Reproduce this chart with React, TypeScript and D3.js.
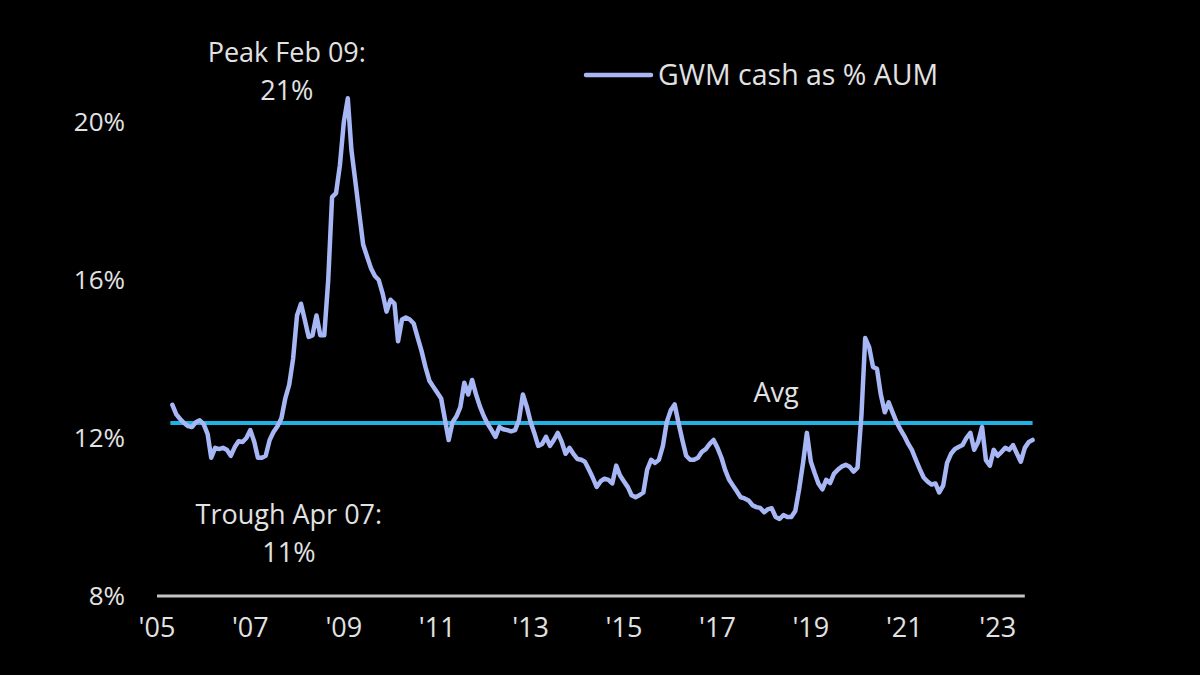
import React from "react";
import * as d3 from "d3";

const startMonth = "2005-05";
// Monthly GWM cash as % of AUM, May 2005 – Oct 2023
const cashValues: number[] = [
  // 2005 (May-Dec)
  12.84, 12.6, 12.48, 12.38, 12.3, 12.28, 12.4, 12.45,
  // 2006
  12.35, 12.1, 11.5, 11.75, 11.72, 11.75, 11.7, 11.55, 11.77, 11.92, 11.9, 12.0,
  // 2007
  12.2, 11.9, 11.5, 11.5, 11.55, 11.95, 12.15, 12.3, 12.5, 13.0, 13.35, 14.0,
  // 2008
  15.1, 15.4, 15.0, 14.56, 14.6, 15.1, 14.6, 14.6, 16.0, 18.1, 18.2, 18.9,
  // 2009
  20.0, 20.6, 19.3, 18.5, 17.7, 16.9, 16.6, 16.3, 16.1, 16.0, 15.65, 15.2,
  // 2010
  15.5, 15.4, 14.45, 15.0, 15.05, 15.0, 14.9, 14.55, 14.2, 13.8, 13.45, 13.3,
  // 2011
  13.15, 13.0, 12.5, 11.95, 12.4, 12.55, 12.78, 13.4, 13.1, 13.47, 13.1, 12.8,
  // 2012
  12.55, 12.35, 12.2, 12.03, 12.28, 12.22, 12.2, 12.17, 12.2, 12.45, 13.1, 12.8,
  // 2013
  12.4, 12.1, 11.8, 11.85, 12.03, 11.8, 11.95, 12.13, 11.9, 11.6, 11.75, 11.6,
  // 2014
  11.47, 11.45, 11.4, 11.2, 11.0, 10.76, 10.9, 10.97, 10.94, 10.85, 11.3, 11.05,
  // 2015
  10.9, 10.75, 10.55, 10.5, 10.55, 10.62, 11.2, 11.45, 11.37, 11.45, 11.8, 12.4,
  // 2016
  12.7, 12.85, 12.4, 11.95, 11.55, 11.45, 11.45, 11.5, 11.65, 11.72, 11.85, 11.95,
  // 2017
  11.75, 11.5, 11.2, 10.95, 10.8, 10.65, 10.5, 10.47, 10.42, 10.3, 10.25, 10.23,
  // 2018
  10.12, 10.2, 10.22, 10.0, 9.95, 10.05, 10.0, 10.0, 10.15, 10.7, 11.37, 12.13,
  // 2019
  11.4, 11.1, 10.85, 10.7, 10.94, 10.86, 11.1, 11.2, 11.28, 11.32, 11.27, 11.15,
  // 2020
  11.25, 12.6, 14.53, 14.3, 13.8, 13.75, 13.1, 12.65, 12.9, 12.65, 12.4, 12.22,
  // 2021
  12.05, 11.85, 11.7, 11.45, 11.22, 11.0, 10.9, 10.82, 10.85, 10.62, 10.8, 11.37,
  // 2022
  11.6, 11.72, 11.77, 11.82, 12.0, 12.13, 11.7, 11.9, 12.28, 11.44, 11.3, 11.7,
  // 2023 (Jan-Oct)
  11.55, 11.65, 11.75, 11.7, 11.82, 11.6, 11.4, 11.75, 11.9, 11.95,
];

const averageValue = 12.38;
const yTicks: number[] = [8, 12, 16, 20];
const xTickYears: number[] = [2005, 2007, 2009, 2011, 2013, 2015, 2017, 2019, 2021, 2023];
const seriesName = "GWM cash as % AUM";
const peakLabel = ["Peak Feb 09:", "21%"];
const troughLabel = ["Trough Apr 07:", "11%"];
const avgLabel = "Avg";

const W = 1200;
const H = 675;
const FONT = "'Open Sans', Lato, sans-serif";
const TEXT = "#e2e2e2";
const LINE = "#a7b6f5";
const AVG = "#1fb3e3";

export default function App() {
  const parse = d3.timeParse("%Y-%m");
  const start = parse(startMonth) as Date;
  const data = cashValues.map((v, i) => ({ date: d3.timeMonth.offset(start, i), value: v }));

  const x = d3
    .scaleTime()
    .domain([new Date(2005, 0, 1), new Date(2023, 9, 1)])
    .range([157, 1032.6]);
  const y = d3.scaleLinear().domain([8, 20]).range([596, 122]);

  const line = d3
    .line<{ date: Date; value: number }>()
    .x((d) => x(d.date))
    .y((d) => y(d.value))
    .curve(d3.curveLinear);

  const first = data[0].date;
  const last = data[data.length - 1].date;
  const peak = data.reduce((a, b) => (b.value > a.value ? b : a));
  const trough = data.find((d) => d.date.getFullYear() === 2007 && d.date.getMonth() === 3)!;

  const fw = 500;

  return (
    <div style={{ position: "absolute", left: 0, top: 0, width: W, height: H, background: "#000" }}>
      <svg width={W} height={H} style={{ display: "block", background: "#000" }} fontFamily={FONT}>
        <rect width={W} height={H} fill="#000" />
        {/* y tick labels */}
        {yTicks.map((t) => (
          <text key={t} x={125} y={y(t)} dy="0.36em" textAnchor="end" fill={TEXT} fontSize={26} fontWeight={fw}>
            {t}%
          </text>
        ))}
        {/* x axis line */}
        <line
          x1={x(new Date(2005, 0, 1))}
          x2={x(new Date(2023, 7, 1))}
          y1={y(8)}
          y2={y(8)}
          stroke="#c4c4c4"
          strokeWidth={3}
        />
        {xTickYears.map((yr) => (
          <text
            key={yr}
            x={x(new Date(yr, 0, 1))}
            y={y(8) + 41}
            textAnchor="middle"
            fill={TEXT}
            fontSize={27}
            fontWeight={fw}
          >
            {"'" + String(yr).slice(2)}
          </text>
        ))}
        {/* average line */}
        <line
          x1={x(first) - 2}
          x2={x(last)}
          y1={y(averageValue)}
          y2={y(averageValue)}
          stroke={AVG}
          strokeWidth={4}
        />
        {/* series */}
        <path
          d={line(data) || ""}
          fill="none"
          stroke={LINE}
          strokeWidth={4.5}
          strokeLinejoin="round"
          strokeLinecap="round"
        />
        {/* annotations */}
        <text x={x(peak.date) - 61} y={62} textAnchor="middle" fill={TEXT} fontSize={27} fontWeight={fw}>
          {peakLabel[0]}
        </text>
        <text x={x(peak.date) - 61} y={100} textAnchor="middle" fill={TEXT} fontSize={27} fontWeight={fw}>
          {peakLabel[1]}
        </text>
        <text x={x(trough.date) + 27} y={524} textAnchor="middle" fill={TEXT} fontSize={27} fontWeight={fw}>
          {troughLabel[0]}
        </text>
        <text x={x(trough.date) + 27} y={562} textAnchor="middle" fill={TEXT} fontSize={27} fontWeight={fw}>
          {troughLabel[1]}
        </text>
        <text x={776} y={y(averageValue) - 21} textAnchor="middle" fill={TEXT} fontSize={27} fontWeight={fw}>
          {avgLabel}
        </text>
        {/* legend */}
        <line x1={586} x2={651} y1={75} y2={75} stroke={LINE} strokeWidth={4.5} strokeLinecap="round" />
        <text x={658} y={85} fill={TEXT} fontSize={28.5} fontWeight={fw}>
          {seriesName}
        </text>
      </svg>
    </div>
  );
}
